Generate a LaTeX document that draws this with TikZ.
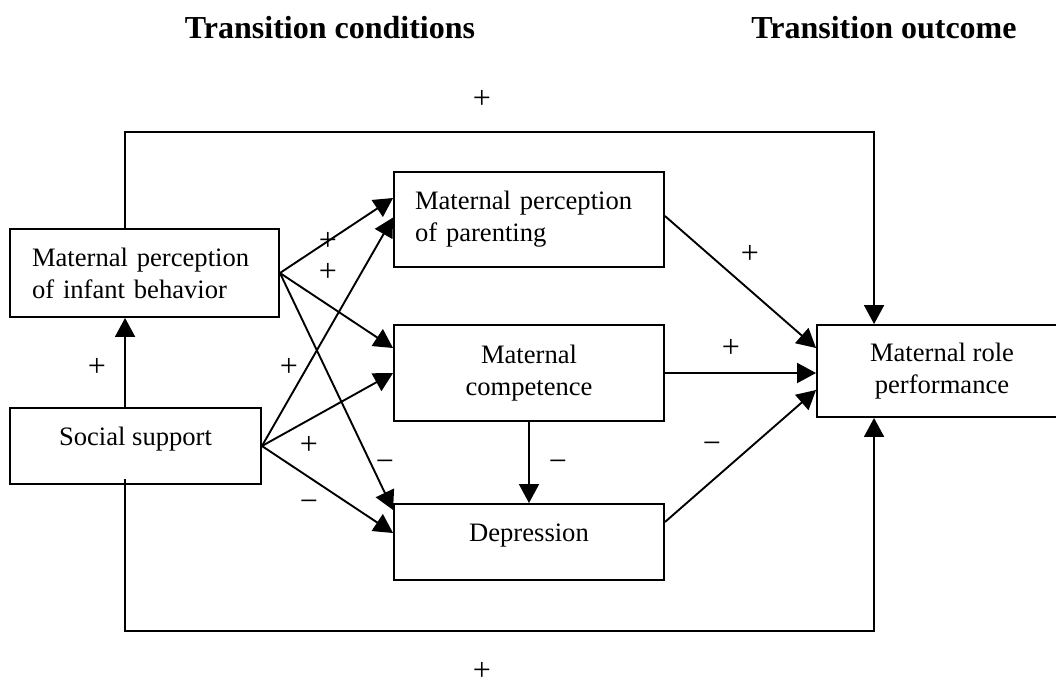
\documentclass[tikz,border=0pt]{standalone}
\usepackage{fontspec}
\setmainfont{Liberation Serif}
\usetikzlibrary{arrows.meta,calc}
\tikzset{
  box/.style={draw, line width=1.9pt, rectangle, inner sep=0pt,
    font=\fontsize{26.6}{32}\selectfont},
  arr/.style={line width=1.9pt, -{Triangle[length=19pt,width=20pt]}},
  sign/.style={font=\fontsize{32}{32}\selectfont, inner sep=0pt, text height=17pt, text depth=0pt},
  head/.style={font=\fontsize{32}{38}\selectfont\bfseries, inner sep=0pt}
}
\begin{document}
\begin{tikzpicture}[x=1pt,y=-1pt]
\useasboundingbox (0,0) rectangle (1056,686);
% headers
\node[head] (h1) at (330,28) {Transition conditions};
\node[head] (h2) at (884,28) {Transition outcome};
% boxes
\node[box, minimum width=269, minimum height=88, text width=225, align=left] (A) at (144.5,273) {Maternal perception\\of infant behavior};
\node[box, minimum width=251, minimum height=76, text height=18pt, text depth=20pt] (S) at (135.5,446) {Social support};
\node[box, minimum width=270, minimum height=95, text width=228, align=left] (P) at (529,219.5) {Maternal perception\\of parenting};
\node[box, minimum width=270, minimum height=96, align=center] (C) at (529,373) {Maternal\\competence};
\node[box, minimum width=270, minimum height=76, text height=18pt, text depth=20pt] (D) at (529,542) {Depression};
\node[box, minimum width=250, minimum height=92, align=center] (R) at (942,371) {Maternal role\\performance};
% loop corners
\coordinate (top) at (500,132);
\coordinate (bot) at (500,631);
% connectors
\draw[arr] ($(S.north west)+(116,0)$) -- ($(A.south west)+(116,0)$);
\draw[arr] ($(A.north west)+(116,0)$) |- (top) -| ($(R.north west)+(58,0)$);
\draw[arr] ($(S.south west)+(116,-6)$) |- (bot) -| ($(R.south west)+(58,0)$);
\draw[arr] (A.east) -- ($(P.west)+(0,-21.5)$);
\draw[arr] (A.east) -- ($(C.west)+(0,-25)$);
\draw[arr] (A.east) -- ($(D.west)+(0,-32)$);
\draw[arr] (S.east) -- ($(P.west)+(0,-2)$);
\draw[arr] (S.east) -- (C.west);
\draw[arr] (S.east) -- ($(D.west)+(0,-9)$);
\draw[arr] (C.south) -- (D.north);
\draw[arr] ($(P.east)+(0,-3.5)$) -- ($(R.west)+(0,-23)$);
\draw[arr] (C.east) -- (C.east -| R.west);
\draw[arr] ($(D.east)+(0,-20)$) -- ($(R.west)+(0,19)$);
% signs
\node[sign] (s1) at (482,100) {+};
\node[sign] (s2) at (482,672) {+};
\node[sign] (s3) at (328,242) {+};
\node[sign] (s4) at (328,273) {+};
\node[sign] (s5) at (97,368) {+};
\node[sign] (s6) at (289,368) {+};
\node[sign] (s7) at (309,446) {+};
\node[sign] (s8) at (385,463) {−};
\node[sign] (s9) at (309,503) {−};
\node[sign] (s10) at (558,463) {−};
\node[sign] (s11) at (750,255) {+};
\node[sign] (s12) at (731,349) {+};
\node[sign] (s13) at (712,445) {−};
\end{tikzpicture}
\end{document}
